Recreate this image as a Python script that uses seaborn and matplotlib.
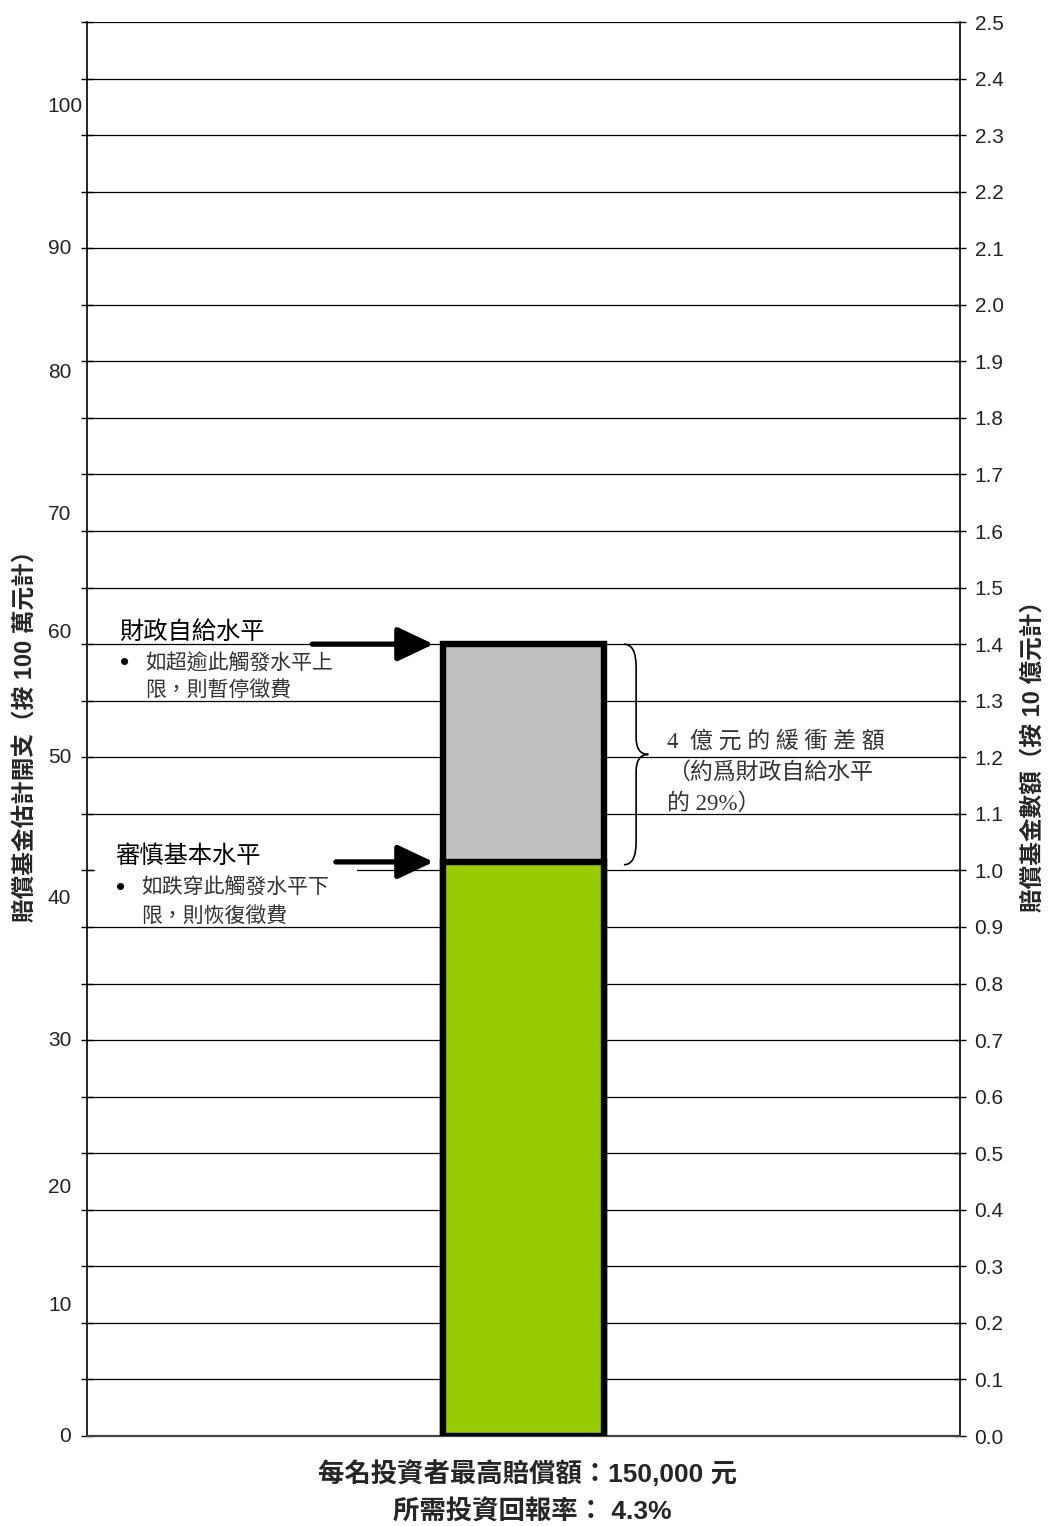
import numpy as np
import pandas as pd
import matplotlib.pyplot as plt
import matplotlib.transforms as mtransforms
from matplotlib.path import Path
from matplotlib.patches import PathPatch, Rectangle
import seaborn as sns

# data
fund_levels = ['財政自給水平', '審慎基本水平']
fund_values = [1.4, 1.015]          # 10億元
bar_colors = ['#C0C0C0', '#99CC00']
right_ticks = [0.0, 0.1, 0.2, 0.3, 0.4, 0.5, 0.6, 0.7, 0.8, 0.9, 1.0, 1.1, 1.2,
               1.3, 1.4, 1.5, 1.6, 1.7, 1.8, 1.9, 2.0, 2.1, 2.2, 2.3, 2.4, 2.5]
left_labels = ['0', '10', '20', '30', '40', '50', '60', '70', '80', '90', '100']
left_label_pos = [0.0, 0.23, 0.44, 0.70, 0.95, 1.20, 1.42, 1.63, 1.88, 2.10, 2.35]

sns.set_style('white')
plt.rcParams['font.family'] = ['Liberation Sans', 'Noto Sans CJK TC']
serif = ['Liberation Serif', 'Noto Sans CJK TC']

W, H = 1048, 1526
fig = plt.figure(figsize=(W / 100, H / 100), dpi=100)
ax = fig.add_axes([87 / W, 1 - 1436 / H, 873 / W, 1414 / H])

def fx(px):
    return px / W

def fy(py):
    return 1 - py / H

df = pd.DataFrame({'level': fund_levels, 'value': fund_values, 'x': ['fund', 'fund']})
for i, row in df.iterrows():
    sns.barplot(x=[row['x']], y=[row['value']], color=bar_colors[i], saturation=1,
                width=0.184, edgecolor='black', linewidth=4.6, ax=ax, zorder=3)

ax.set_xlim(-0.5, 0.5)
ax.set_ylim(0, 2.5)
ax.set_xticks([])
ax.set_xlabel('')
ax.set_ylabel('')
ax.set_yticks(right_ticks)
ax.set_yticklabels([f'{t:.1f}' for t in right_ticks])
ax.grid(axis='y', color='black', linewidth=0.9)
ax.set_axisbelow(True)
ax.tick_params(axis='y', left=True, right=True, labelleft=False, labelright=True,
               direction='inout', length=9, width=1, labelsize=15, pad=6, colors='black')
ax.tick_params(axis='y', labelcolor='#222222')
for s in ['left', 'right']:
    ax.spines[s].set_color('black')
    ax.spines[s].set_linewidth(1.2)
ax.spines['top'].set_visible(False)
ax.spines['bottom'].set_color('#444444')
ax.spines['bottom'].set_linewidth(1.6)

bt = mtransforms.blended_transform_factory(ax.transAxes, ax.transData)

# left scale labels (irregularly placed in the original)
for lab, pos in zip(left_labels, left_label_pos):
    xpos = -0.005 if lab == '100' else -0.018
    ax.text(xpos, pos, lab, transform=bt, ha='right', va='center', fontsize=15, color='#222222')

# white box hiding gridline behind lower note
ax.add_patch(Rectangle((0.009, 0.985), 0.30, 0.05, transform=bt, facecolor='white',
                       edgecolor='none', zorder=1.5))

# arrows
arrow_tails = [0.258, 0.285]
for tail, val in zip(arrow_tails, fund_values):
    ax.annotate('', xy=(0.397, val), xycoords=bt, xytext=(tail, val), textcoords=bt,
                arrowprops=dict(arrowstyle='-|>,head_length=1.1,head_width=0.52',
                                mutation_scale=20, lw=3.8, color='black',
                                shrinkA=0, shrinkB=0), zorder=4)

# brace
y1, y0 = fund_values[0], fund_values[1] - 0.005
ym = (y1 + y0) / 2
xl, xc, xt = 0.615, 0.629, 0.643
verts = [(xl, y1), (xc, y1), (xc, y1 - 0.04),
         (xc, ym + 0.03),
         (xc, ym), (xt, ym),
         (xc, ym), (xc, ym - 0.03),
         (xc, y0 + 0.04),
         (xc, y0), (xl, y0)]
codes = [Path.MOVETO, Path.CURVE3, Path.CURVE3, Path.LINETO, Path.CURVE3, Path.CURVE3,
         Path.CURVE3, Path.CURVE3, Path.LINETO, Path.CURVE3, Path.CURVE3]
ax.add_patch(PathPatch(Path(verts, codes), transform=bt, facecolor='none',
                       edgecolor='black', lw=1.2, zorder=4))

fig.text(fx(667), fy(742), '4  億 元 的 緩 衝 差 額', family=serif, fontsize=16.5,
         color='#333333', ha='left', va='center')
fig.text(fx(667), fy(773), '（約爲財政自給水平', family=serif, fontsize=16.5,
         color='#333333', ha='left', va='center')
fig.text(fx(667), fy(804), '的 29%）', family=serif, fontsize=16.5,
         color='#333333', ha='left', va='center')

# notes on the left
fig.text(fx(119), fy(633), fund_levels[0], fontsize=17.5, fontweight='medium', color='black',
         ha='left', va='center')
fig.text(fx(125), fy(663), '•', fontsize=19, color='black', ha='center', va='center')
fig.text(fx(145), fy(663), '如超逾此觸發水平上', fontsize=15, color='#333333', ha='left', va='center')
fig.text(fx(145), fy(690), '限，則暫停徵費', fontsize=15, color='#333333', ha='left', va='center')

fig.text(fx(115), fy(857), fund_levels[1], fontsize=17.5, fontweight='medium', color='black',
         ha='left', va='center')
fig.text(fx(121), fy(888), '•', fontsize=19, color='black', ha='center', va='center')
fig.text(fx(141), fy(888), '如跌穿此觸發水平下', fontsize=15, color='#333333', ha='left', va='center')
fig.text(fx(141), fy(916), '限，則恢復徵費', fontsize=15, color='#333333', ha='left', va='center')

# axis titles
fig.text(fx(25), fy(730), '賠償基金估計開支（按 100 萬元計）', rotation=90, fontsize=17,
         fontweight='bold', ha='center', va='center')
fig.text(fx(1033), fy(750), '賠償基金數額（按 10 億元計）', rotation=90, fontsize=17,
         fontweight='bold', ha='center', va='center')

# bottom captions
fig.text(fx(527), fy(1474), '每名投資者最高賠償額：150,000 元', fontsize=19,
         fontweight='bold', ha='center', va='center')
fig.text(fx(532), fy(1512), '所需投資回報率： 4.3%', fontsize=19,
         fontweight='bold', ha='center', va='center')

fig.savefig('out.png', dpi=100)
